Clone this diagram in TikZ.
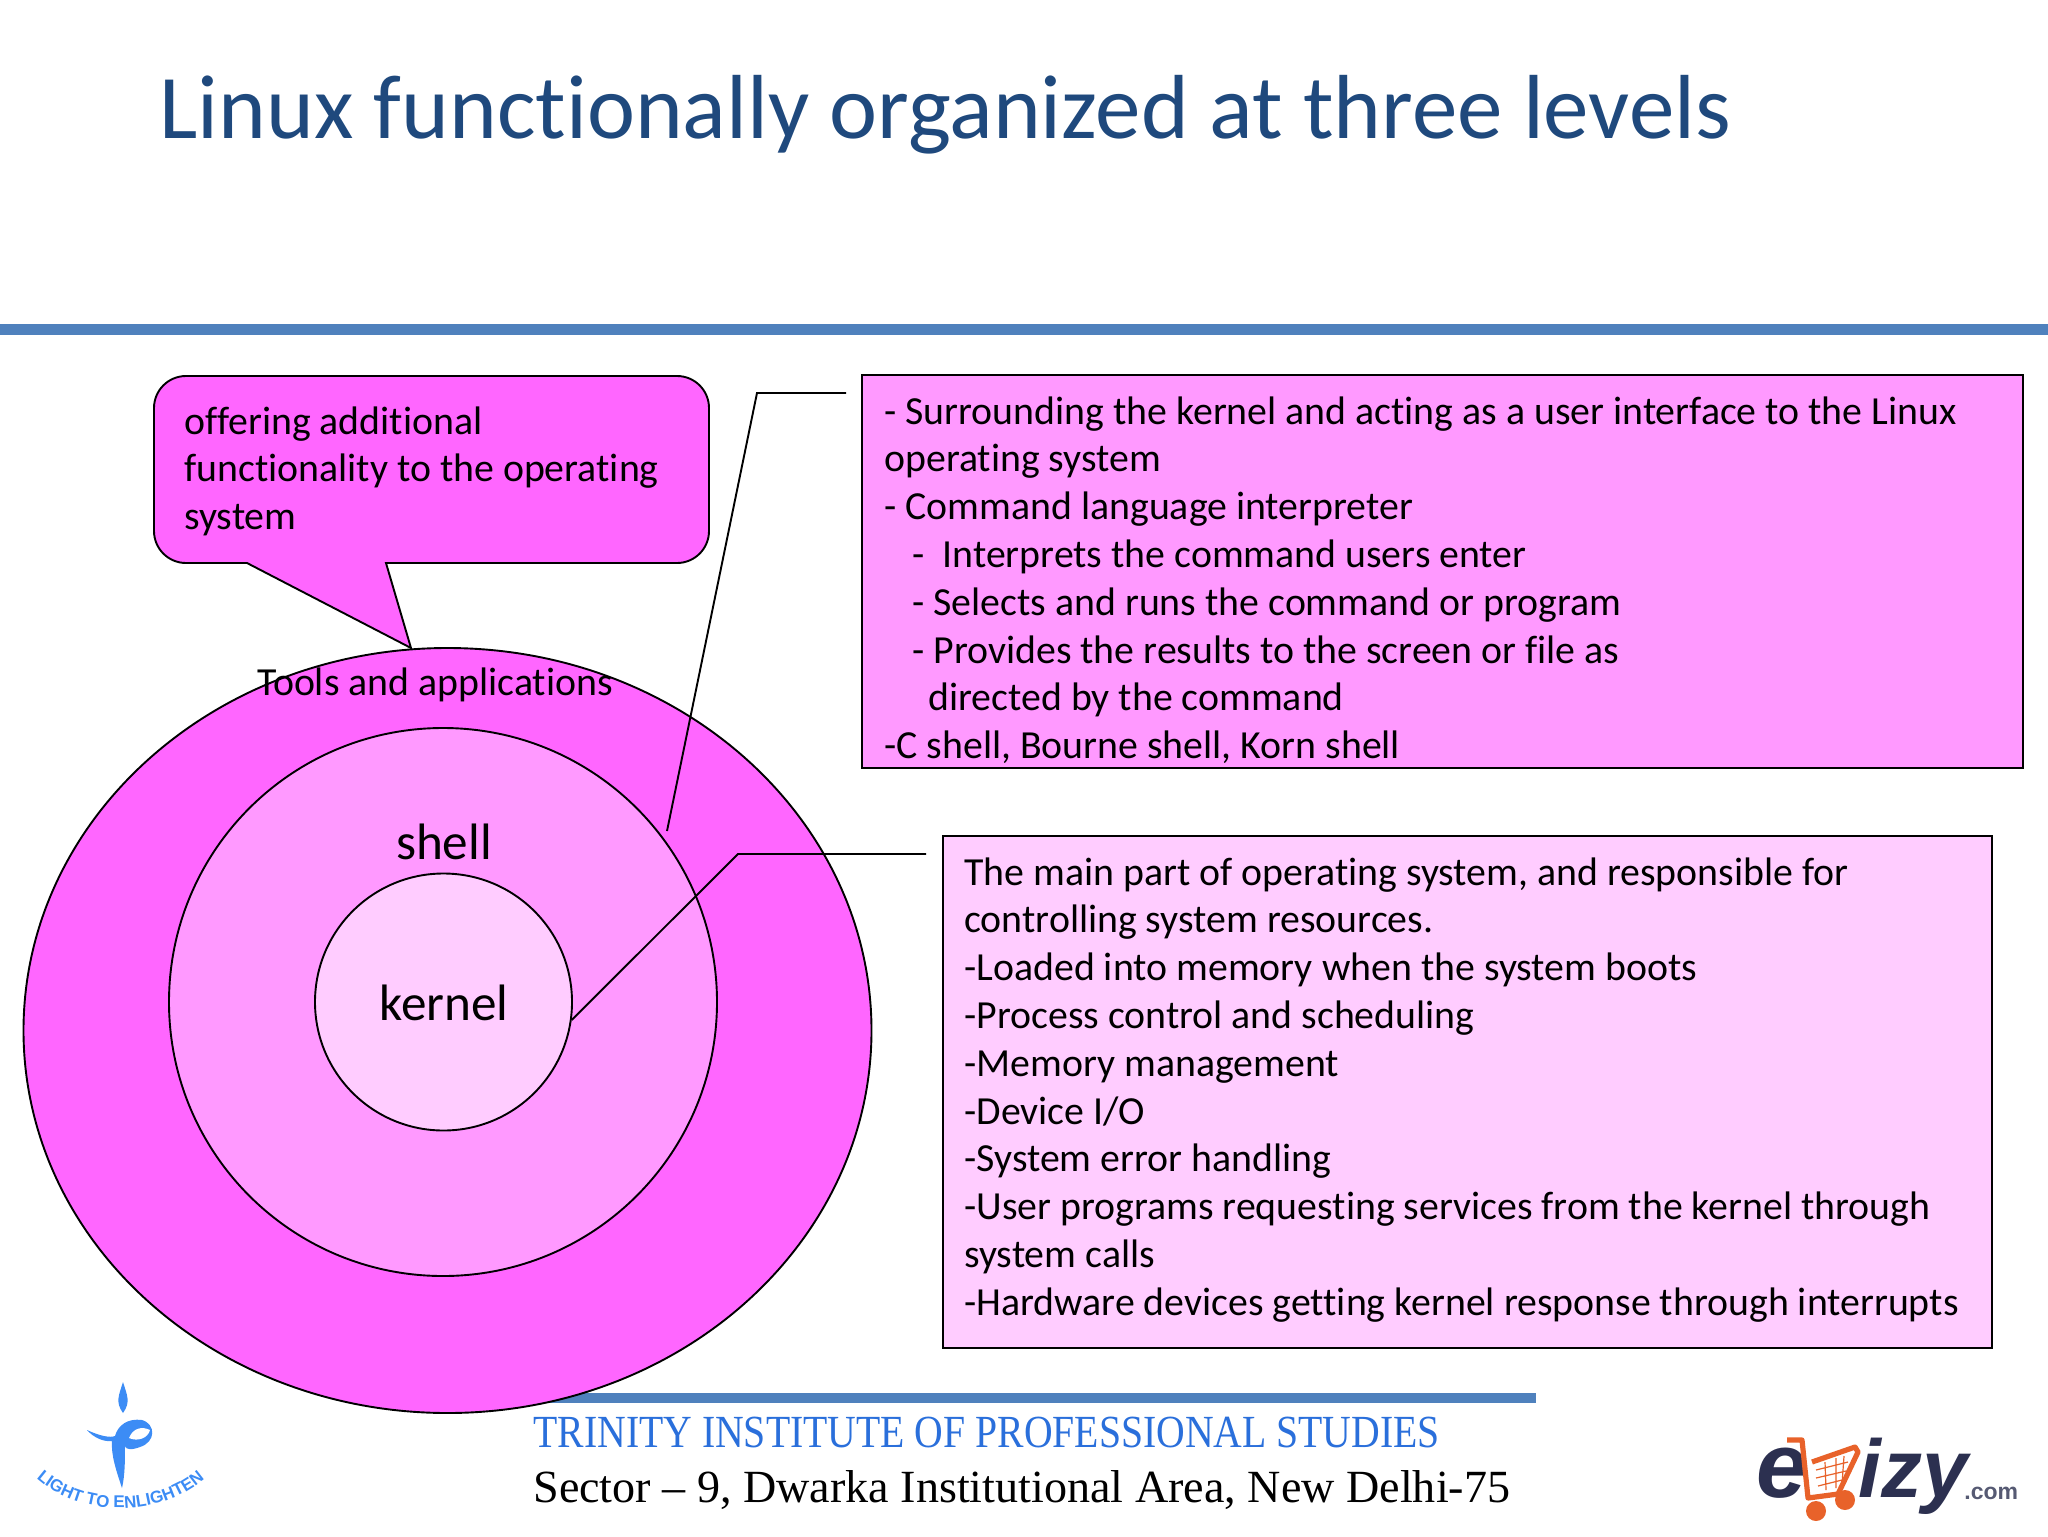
\documentclass[tikz,border=0pt]{standalone}
\usepackage{fontspec}
\setmainfont[Ligatures=NoCommon]{Carlito}
\newfontfamily\footfont{Liberation Serif}
\newfontfamily\trinityfont[FakeStretch=0.863]{Liberation Serif}
\newfontfamily\logofont{Liberation Sans}
\usetikzlibrary{positioning, shapes.geometric, decorations.text}
\definecolor{titleblue}{HTML}{1F497D}
\definecolor{ruleblue}{HTML}{4F81BD}
\definecolor{levelone}{HTML}{FF66FF}
\definecolor{leveltwo}{HTML}{FF99FF}
\definecolor{levelthree}{HTML}{FFCCFF}
\definecolor{trinityblue}{HTML}{2A6FDB}
\definecolor{logoblue}{HTML}{3C8CF5}
\definecolor{logonavy}{HTML}{2C3050}
\definecolor{logoorange}{HTML}{E8622A}

\begin{document}
\begin{tikzpicture}
[
    x=0.5pt, y=-0.5pt,
    level_node/.style={ellipse, draw=black, line width=0.95pt, inner sep=0pt},
    info_box/.style={rectangle, draw=black, line width=0.95pt, inner sep=0pt},
    body_text/.style={anchor=north west, inner sep=0pt, align=left, font=\fontsize{19.9}{23.9}\selectfont},
    big_text/.style={inner sep=0pt, font=\fontsize{25.6}{30}\selectfont},
    foot_text/.style={anchor=base west, inner sep=0pt, font=\footfont\fontsize{23.05}{28}\selectfont},
    lead_line/.style={draw=black, line width=0.95pt},
    rule_bar/.style={fill=ruleblue},
]
    \useasboundingbox (0,0) rectangle (2048,1536);
    \node[anchor=base west, inner sep=0pt, text=titleblue, font=\fontsize{45.5}{54}\selectfont] (title) at (159,139) {Linux functionally organized at three levels};
    \fill[rule_bar] (0,324) rectangle (2048,335);
    \fill[rule_bar] (520,1393) rectangle (1536,1403);

    % the three levels
    \node[level_node, fill=levelone, minimum width=424pt, minimum height=382.5pt] (tools) at (447.5,1030.5) {};
    \node[level_node, fill=leveltwo, minimum width=274pt, minimum height=274pt] (shellring) at (443,1002) {};
    \node[level_node, fill=levelthree, minimum width=128.5pt, minimum height=128.5pt] (kernelring) at (443.5,1002) {};
    \node[big_text] (shelllabel) at (444,842) {shell};
    \node[big_text] (kernellabel) at (444,1003) {kernel};
    \node[body_text, anchor=center] (toolslabel) at (435,685) {Tools and applications};

    % callout
    \draw[fill=levelone, line width=0.95pt]
        (386,563) -- (411,648) -- (247,563)
        [rounded corners=16pt] -- (154,563) -- (154,376) -- (709,376) -- (709,563)
        [sharp corners] -- cycle;
    \node[body_text] (toolsnote) at (184,406) {offering additional\\functionality to the operating\\system};

    % the two boxes
    \node[info_box, fill=leveltwo, minimum width=580.5pt, minimum height=196.5pt] (shellbox) at (1442.5,571.5) {};
    \node[body_text] (shelltext) [at={(884,396)}] {- Surrounding the kernel and acting as a user interface to the Linux\\operating system\\- Command language interpreter\\\hspace*{14pt}-\hspace*{4.5pt} Interprets the command users enter\\\hspace*{14pt}- Selects and runs the command or program\\\hspace*{14pt}- Provides the results to the screen or file as\\\hspace*{22pt}directed by the command\\-C shell, Bourne shell, Korn shell};
    \node[info_box, fill=levelthree, minimum width=524.5pt, minimum height=256pt] (kernelbox) at (1467.5,1092) {};
    \node[body_text] (kerneltext) [at={(964,857)}] {The main part of operating system, and responsible for\\controlling system resources.\\-Loaded into memory when the system boots\\-Process control and scheduling\\-Memory management\\-Device I/O\\-System error handling\\-User programs requesting services from the kernel through\\system calls\\-Hardware devices getting kernel response through interrupts};

    % leaders
    \coordinate (shellfree) at (846,393);
    \coordinate (shellbend) at (757,393);
    \coordinate (shelltip) at (667,831);
    \coordinate (kernelfree) at (926,854);
    \coordinate (kernelbend) at (738,854);
    \draw[lead_line] (shellfree) -- (shellbend) -- (shelltip);
    \draw[lead_line] (kernelfree) -- (kernelbend) -- (kernelring.-8);

    % footer
    \node[foot_text, text=trinityblue, font=\trinityfont\fontsize{23}{28}\selectfont] (trinity) at (533,1447) {TRINITY INSTITUTE OF PROFESSIONAL STUDIES};
    \node[foot_text] (sector) at (533,1502) {Sector – 9, Dwarka Institutional Area, New Delhi-75};

    % left logo
    \fill[logoblue] (123,1382) .. controls (127,1395) and (131,1402) .. (123,1413) .. controls (115,1402) and (119,1395) .. (123,1382);
    \fill[logoblue] (87,1430) .. controls (100,1436) and (110,1438) .. (115,1436)
        .. controls (118,1425) and (128,1418) .. (142,1420)
        .. controls (156,1424) and (156,1442) .. (140,1447)
        .. controls (132,1450) and (126,1450) .. (125,1446)
        .. controls (125,1460) and (125,1475) .. (122,1488)
        .. controls (116,1470) and (111,1455) .. (112,1441)
        .. controls (104,1442) and (94,1438) .. (87,1430);
    \fill[white] (129,1438) .. controls (133,1428) and (142,1426) .. (150,1430) .. controls (148,1438) and (138,1442) .. (129,1438);
    \path[decorate, decoration={text along path, text align=center, text={|\logofont\bfseries\fontsize{8.5}{10}\selectfont\color{logoblue}|LIGHT TO ENLIGHTEN}}]
        (36,1478) .. controls (80,1518) and (160,1518) .. (205,1478);

    % right logo
    \node[anchor=base west, inner sep=0pt, text=logonavy, font=\logofont\bfseries\itshape\fontsize{46}{50}\selectfont] (logoe) at (1756,1497) {e};
    \node[anchor=base west, inner sep=0pt, text=logonavy, font=\logofont\bfseries\itshape\fontsize{41}{50}\selectfont] (logoizy) at (1858,1497) {izy};
    \node[anchor=base west, inner sep=0pt, text=logonavy!80, font=\logofont\bfseries\fontsize{11.5}{14}\selectfont] (logocom) at (1964,1499) {.com};
    \draw[logoorange, line width=2.6pt, line join=round] (1787,1440) -- (1802,1440) -- (1808,1498) -- (1838,1494) -- (1858,1452) -- (1855,1447) -- (1812,1462);
    \draw[logoorange, line width=0.6pt] (1816,1470) -- (1848,1462) (1816,1478) -- (1846,1471) (1818,1486) -- (1842,1480) (1825,1462) -- (1826,1490) (1836,1458) -- (1836,1488) (1844,1456) -- (1842,1484);
    \fill[logoorange] (1816,1511) circle (10) (1845,1500) circle (10);
\end{tikzpicture}
\end{document}
